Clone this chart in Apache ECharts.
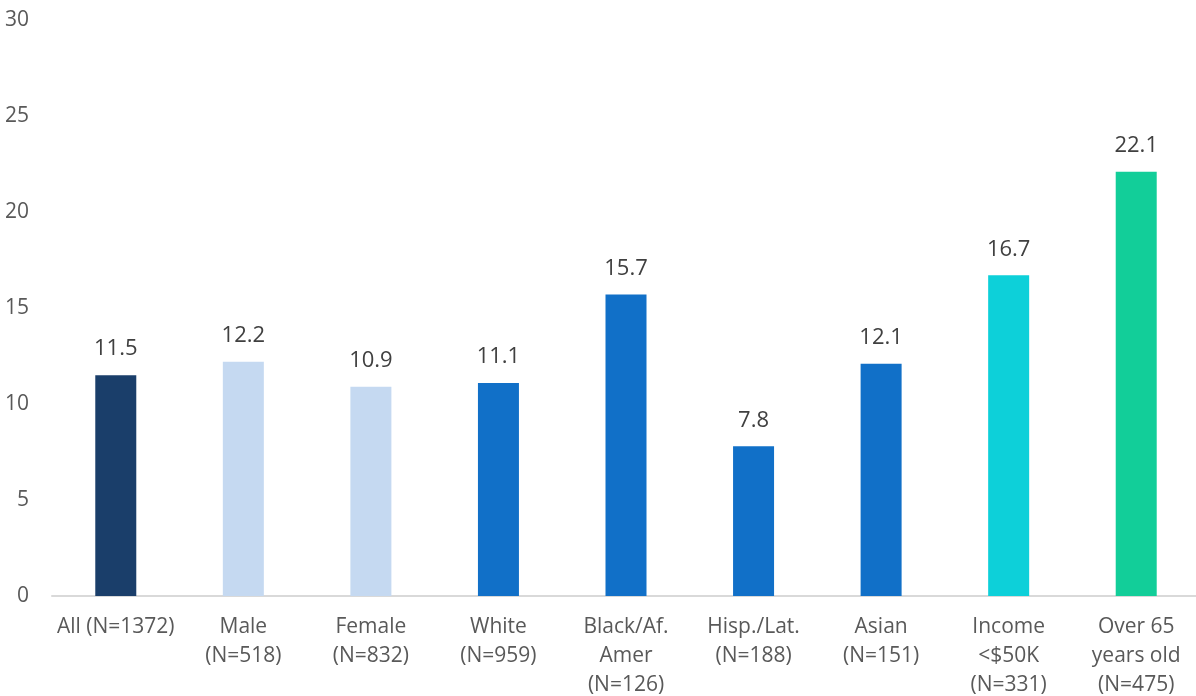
<!DOCTYPE html>
<html>
<head>
<meta charset="utf-8">
<script src="https://cdn.jsdelivr.net/npm/echarts@6/dist/echarts.min.js"></script>
<style>
html,body{margin:0;padding:0;background:#fff;overflow:hidden;}
#chart{width:1196px;height:696px;}
</style>
</head>
<body>
<div id="chart"></div>
<script>
const categories = ["All (N=1372)", "Male\n(N=518)", "Female\n(N=832)", "White\n(N=959)", "Black/Af.\nAmer\n(N=126)", "Hisp./Lat.\n(N=188)", "Asian\n(N=151)", "Income\n<$50K\n(N=331)", "Over 65\nyears old\n(N=475)"];
const values = [11.5, 12.2, 10.9, 11.1, 15.7, 7.8, 12.1, 16.7, 22.1];
const barColors = ["#1a3e6a", "#c5d9f1", "#c5d9f1", "#1170c8", "#1170c8", "#1170c8", "#1170c8", "#0dd0d9", "#12ce99"];
const yTicks = [0, 5, 10, 15, 20, 25, 30];

const chart = echarts.init(document.getElementById('chart'));
chart.setOption({
  animation: false,
  grid: {left: 52, width: 1148, top: 20, height: 576, containLabel: false, outerBoundsMode: 'none'},
  xAxis: {
    type: 'category',
    data: categories,
    axisLine: {show: true, lineStyle: {color: '#d9d9d9', width: 2}},
    axisTick: {show: false},
    axisLabel: {color: '#595959', fontSize: 21, fontFamily: 'Open Sans', lineHeight: 29, margin: 17, interval: 0}
  },
  yAxis: {
    type: 'value',
    min: yTicks[0],
    max: yTicks[yTicks.length - 1],
    interval: 5,
    splitLine: {show: false},
    axisLine: {show: false},
    axisTick: {show: false},
    axisLabel: {color: '#595959', fontSize: 21, fontFamily: 'Open Sans', margin: 23}
  },
  series: [{
    type: 'bar',
    data: values.map((v, i) => ({value: v, itemStyle: {color: barColors[i]}})),
    barWidth: 41,
    label: {show: true, position: 'top', distance: 15, color: '#404040', fontSize: 22, fontFamily: 'Open Sans'}
  }]
});
</script>
</body>
</html>
